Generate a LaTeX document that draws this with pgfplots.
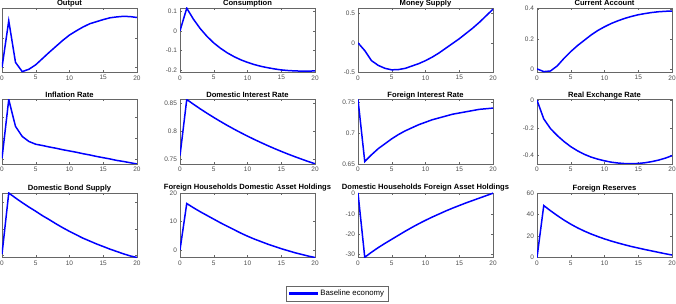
\documentclass[border=0pt]{standalone}
\usepackage{pgfplots}
\pgfplotsset{compat=1.18}
\usepackage{fontspec}
\setmainfont{Liberation Sans}
\definecolor{axgray}{gray}{0.4}
\definecolor{txtgray}{gray}{0.3}
\pgfplotsset{
  irf/.style={
    scale only axis, width=135pt, height=64.5pt, anchor=south west,
    xmin=0, xmax=20, xtick={0,5,10,15,20},
    tick align=inside, major tick length=2pt,
    axis line style={axgray, line width=0.5pt},
    every tick/.style={axgray, line width=0.4pt},
    tick label style={font=\fontsize{6.5}{7}\selectfont, text=txtgray},
    /pgf/number format/assume math mode=true,
    scaled y ticks=false, scaled x ticks=false,
    xticklabel style={yshift=0.5pt},
    yticklabel style={xshift=0.5pt},
    every axis title/.style={font=\bfseries\fontsize{7.6}{8}\selectfont, at={(0.5,1)}, anchor=base, inner sep=0pt, yshift=2.3pt},
    every axis plot/.append style={blue, line width=1.5pt, no marks},
  },
  leftcol/.style={yticklabels={}},
  hightitle/.style={title style={yshift=1.4pt}}
}
\begin{document}
\begin{tikzpicture}[x=1pt,y=1pt]
\path[use as bounding box] (0,0) rectangle (676,304);
% Row 1
\begin{axis}[irf, leftcol, at={(2pt,231.5pt)}, title={Output}, ymin=-0.17, ymax=2.0, ytick={0,1,2}]
\addplot coordinates {(0,0) (1,1.57) (2,0.17) (3,-0.14) (4,-0.06) (5,0.09) (6,0.30) (7,0.51) (8,0.71) (9,0.91) (10,1.09) (11,1.23) (12,1.36) (13,1.47) (14,1.54) (15,1.61) (16,1.67) (17,1.70) (18,1.72) (19,1.71) (20,1.68)};
\end{axis}
\begin{axis}[irf, at={(180pt,231.5pt)}, title={Consumption}, ymin=-0.21, ymax=0.115, ytick={-0.2,-0.1,0,0.1}]
\addplot coordinates {(0,0) (1,0.114) (2,0.058) (3,0.011) (4,-0.028) (5,-0.061) (6,-0.088) (7,-0.111) (8,-0.130) (9,-0.146) (10,-0.159) (11,-0.170) (12,-0.179) (13,-0.186) (14,-0.192) (15,-0.197) (16,-0.200) (17,-0.202) (18,-0.203) (19,-0.203) (20,-0.202)};
\end{axis}
\begin{axis}[irf, at={(358pt,231.5pt)}, title={Money Supply}, ymin=-0.5, ymax=0.59, ytick={-0.5,0,0.5}]
\addplot coordinates {(0,0) (1,-0.13) (2,-0.30) (3,-0.38) (4,-0.43) (5,-0.455) (6,-0.45) (7,-0.43) (8,-0.39) (9,-0.35) (10,-0.30) (11,-0.24) (12,-0.17) (13,-0.09) (14,-0.01) (15,0.07) (16,0.16) (17,0.25) (18,0.35) (19,0.46) (20,0.57)};
\end{axis}
\begin{axis}[irf, at={(537pt,231.5pt)}, title={Current Account}, ymin=-0.024, ymax=0.405, ytick={0,0.2,0.4}]
\addplot coordinates {(0,0) (1,-0.018) (2,-0.014) (3,0.02) (4,0.07) (5,0.115) (6,0.155) (7,0.19) (8,0.225) (9,0.255) (10,0.28) (11,0.302) (12,0.32) (13,0.336) (14,0.349) (15,0.36) (16,0.368) (17,0.375) (18,0.38) (19,0.383) (20,0.385)};
\end{axis}
% Row 2
\begin{axis}[irf, leftcol, at={(2pt,140pt)}, title={Inflation Rate}, ymin=-0.22, ymax=2.85, ytick={0,1,2}]
\addplot coordinates {(0,0.05) (1,2.85) (2,1.57) (3,1.09) (4,0.85) (5,0.72) (6,0.66) (7,0.59) (8,0.53) (9,0.46) (10,0.40) (11,0.34) (12,0.27) (13,0.21) (14,0.14) (15,0.08) (16,0.02) (17,-0.05) (18,-0.10) (19,-0.16) (20,-0.22)};
\end{axis}
\begin{axis}[irf, at={(180pt,140pt)}, title={Domestic Interest Rate}, ymin=0.742, ymax=0.857, ytick={0.75,0.8,0.85}]
\addplot coordinates {(0,0.757) (1,0.857) (2,0.8485) (3,0.8403) (4,0.8325) (5,0.8250) (6,0.8178) (7,0.8108) (8,0.8042) (9,0.7978) (10,0.7917) (11,0.7858) (12,0.7802) (13,0.7747) (14,0.7695) (15,0.7645) (16,0.7597) (17,0.7551) (18,0.7507) (19,0.7464) (20,0.7424)};
\end{axis}
\begin{axis}[irf, at={(358pt,140pt)}, title={Foreign Interest Rate}, ymin=0.65, ymax=0.755, ytick={0.65,0.7,0.75}]
\addplot coordinates {(0,0.755) (1,0.654) (2,0.665) (3,0.675) (4,0.683) (5,0.691) (6,0.698) (7,0.704) (8,0.709) (9,0.714) (10,0.718) (11,0.722) (12,0.725) (13,0.728) (14,0.731) (15,0.733) (16,0.735) (17,0.737) (18,0.739) (19,0.740) (20,0.741)};
\end{axis}
\begin{axis}[irf, at={(537pt,140pt)}, title={Real Exchange Rate}, ymin=-0.46, ymax=0.005, ytick={-0.4,-0.2,0}]
\addplot coordinates {(0,0) (1,-0.135) (2,-0.205) (3,-0.255) (4,-0.298) (5,-0.335) (6,-0.365) (7,-0.39) (8,-0.41) (9,-0.425) (10,-0.437) (11,-0.447) (12,-0.453) (13,-0.457) (14,-0.458) (15,-0.456) (16,-0.451) (17,-0.443) (18,-0.432) (19,-0.418) (20,-0.40)};
\end{axis}
% Row 3
\begin{axis}[irf, leftcol, at={(2pt,46.5pt)}, title={Domestic Bond Supply}, ymin=-0.10, ymax=2.37, ytick={0,1,2}]
\addplot coordinates {(0,0.03) (1,2.37) (2,2.18) (3,2.0) (4,1.83) (5,1.67) (6,1.5) (7,1.35) (8,1.19) (9,1.04) (10,0.9) (11,0.77) (12,0.64) (13,0.53) (14,0.42) (15,0.32) (16,0.22) (17,0.13) (18,0.04) (19,-0.04) (20,-0.10)};
\end{axis}
\begin{axis}[irf, hightitle, at={(180pt,46.5pt)}, title={Foreign Households Domestic Asset Holdings}, ymin=-2.7, ymax=20, ytick={0,10,20}]
\addplot coordinates {(0,0) (1,16.3) (2,14.8) (3,13.4) (4,12.1) (5,10.8) (6,9.5) (7,8.3) (8,7.1) (9,5.9) (10,4.8) (11,3.8) (12,2.9) (13,2.0) (14,1.2) (15,0.4) (16,-0.3) (17,-1.0) (18,-1.6) (19,-2.2) (20,-2.7)};
\end{axis}
\begin{axis}[irf, hightitle, at={(358pt,46.5pt)}, title={Domestic Households Foreign Asset Holdings}, ymin=-31.6, ymax=0.3, ytick={-30,-20,-10,0}]
\addplot coordinates {(0,0.3) (1,-31.5) (2,-29.0) (3,-26.7) (4,-24.6) (5,-22.6) (6,-20.6) (7,-18.6) (8,-16.7) (9,-14.9) (10,-13.2) (11,-11.6) (12,-10.1) (13,-8.6) (14,-7.2) (15,-5.9) (16,-4.6) (17,-3.4) (18,-2.2) (19,-1.0) (20,0.2)};
\end{axis}
\begin{axis}[irf, at={(537pt,46.5pt)}, title={Foreign Reserves}, ymin=0, ymax=60, ytick={0,20,40,60}]
\addplot coordinates {(0,0) (1,48.3) (2,43.5) (3,39.0) (4,34.8) (5,31.0) (6,27.6) (7,24.6) (8,21.9) (9,19.5) (10,17.3) (11,15.3) (12,13.5) (13,11.8) (14,10.2) (15,8.8) (16,7.4) (17,6.1) (18,4.8) (19,3.5) (20,2.3)};
\end{axis}
% legend
\begin{axis}[at={(285pt,2pt)}, anchor=south west, scale only axis, width=105pt, height=17pt, hide axis, xmin=0, xmax=1, ymin=0, ymax=1,
  legend style={at={(0.5,0.5)}, anchor=center, draw=axgray, font=\fontsize{7.8}{8}\selectfont, inner xsep=2.5pt, inner ysep=2.2pt, legend cell align=left},
  legend image code/.code={\fill[blue] (0pt,-0.8pt) rectangle (28pt,0.8pt);}]
\addlegendimage{blue, line width=1.5pt}
\addlegendentry{Baseline economy}
\end{axis}
\end{tikzpicture}
\end{document}
